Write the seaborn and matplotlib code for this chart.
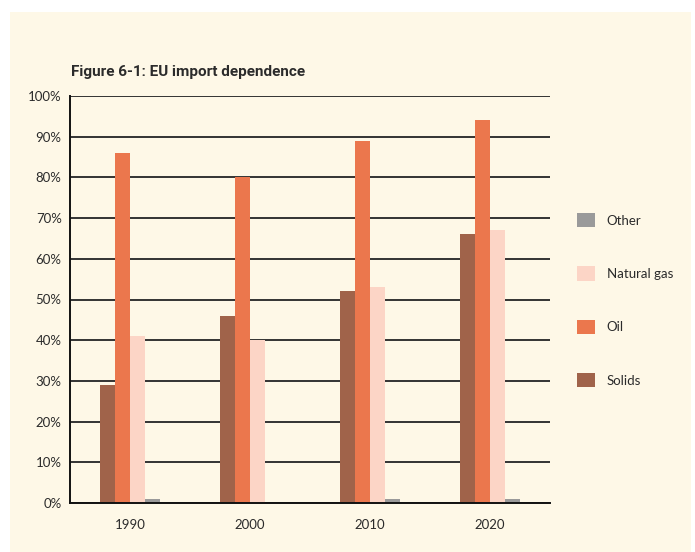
import matplotlib
matplotlib.use("Agg")
import matplotlib.pyplot as plt
import matplotlib.patches as mpatches
from matplotlib import font_manager
import seaborn as sns
import pandas as pd

years = ["1990", "2000", "2010", "2020"]
solids = [29, 46, 52, 66]
oil = [86, 80, 89, 94]
natural_gas = [41, 40, 53, 67]
other = [1, 0, 1, 1]
series_names = ["Solids", "Oil", "Natural gas", "Other"]
y_ticks = [0, 10, 20, 30, 40, 50, 60, 70, 80, 90, 100]
y_tick_labels = [f"{v}%" for v in y_ticks]
title = "Figure 6-1: EU import dependence"

colors = {"Solids": "#A0634A", "Oil": "#EB774D", "Natural gas": "#FCD5C6", "Other": "#9A9A9A"}
bg = "#FEF8E7"
text_color = "#2b2b2b"

rows = []
for name, vals in zip(series_names, [solids, oil, natural_gas, other]):
    for y, v in zip(years, vals):
        rows.append({"year": y, "series": name, "value": v})
df = pd.DataFrame(rows)

sns.set_style("white")
plt.rcParams["font.family"] = ["Lato", "DejaVu Sans"]

installed = {f.name for f in font_manager.fontManager.ttflist}
title_font, title_size = "Roboto", 11
for cand in ["Liberation Sans Narrow", "DejaVu Sans Condensed"]:
    if cand in installed:
        title_font, title_size = cand, 12
        break

fig = plt.figure(figsize=(6.95, 5.52), dpi=100)
fig.patch.set_facecolor("white")
fig.patches.append(mpatches.Rectangle((10 / 695, 0), 681 / 695, 1 - 12 / 552,
                                      transform=fig.transFigure, facecolor=bg,
                                      edgecolor="none", zorder=-10))

ax = fig.add_axes([70 / 695, 1 - 503 / 552, 480 / 695, 407 / 552])
ax.set_facecolor(bg)
ax.patch.set_alpha(0)

sns.barplot(data=df, x="year", y="value", hue="series", order=years,
            hue_order=series_names, palette=colors, width=0.5, saturation=1,
            ax=ax, legend=False, edgecolor="none", linewidth=0)

ax.set_xlim(-0.5, 3.5)
ax.set_ylim(0, 100)
ax.set_yticks(y_ticks)
ax.set_yticklabels(y_tick_labels)
ax.set_axisbelow(True)
ax.yaxis.grid(True, color="#333333", linewidth=1.4)
ax.xaxis.grid(False)
for s in ["top", "right"]:
    ax.spines[s].set_visible(False)
for s in ["left", "bottom"]:
    ax.spines[s].set_color("#111111")
    ax.spines[s].set_linewidth(1.4)

ax.set_xticks([0.5, 1.5, 2.5, 3.5], minor=True)
ax.tick_params(axis="x", which="minor", direction="in", length=8, width=1.2, color="#111111")
ax.tick_params(axis="x", which="major", length=0, pad=11.5, labelsize=9.5, labelcolor=text_color)
ax.tick_params(axis="y", length=0, pad=6, labelsize=9.5, labelcolor=text_color)
ax.set_xlabel("")
ax.set_ylabel("")

fig.text(71 / 695, 1 - 72 / 552, title, fontsize=title_size, fontweight="bold",
         family=[title_font, "DejaVu Sans"], color=text_color,
         ha="left", va="center")

handles = [mpatches.Patch(facecolor=colors[n], edgecolor="none", label=n)
           for n in reversed(series_names)]
fig.legend(handles=handles, loc="upper left",
           bbox_to_anchor=(577 / 695, 1 - 213 / 552), frameon=False,
           fontsize=9.5, labelspacing=2.95, handlelength=1.4, handleheight=1.3,
           handletextpad=0.85, borderpad=0, borderaxespad=0, labelcolor=text_color)

fig.savefig("out.png", dpi=100, facecolor=fig.get_facecolor())
